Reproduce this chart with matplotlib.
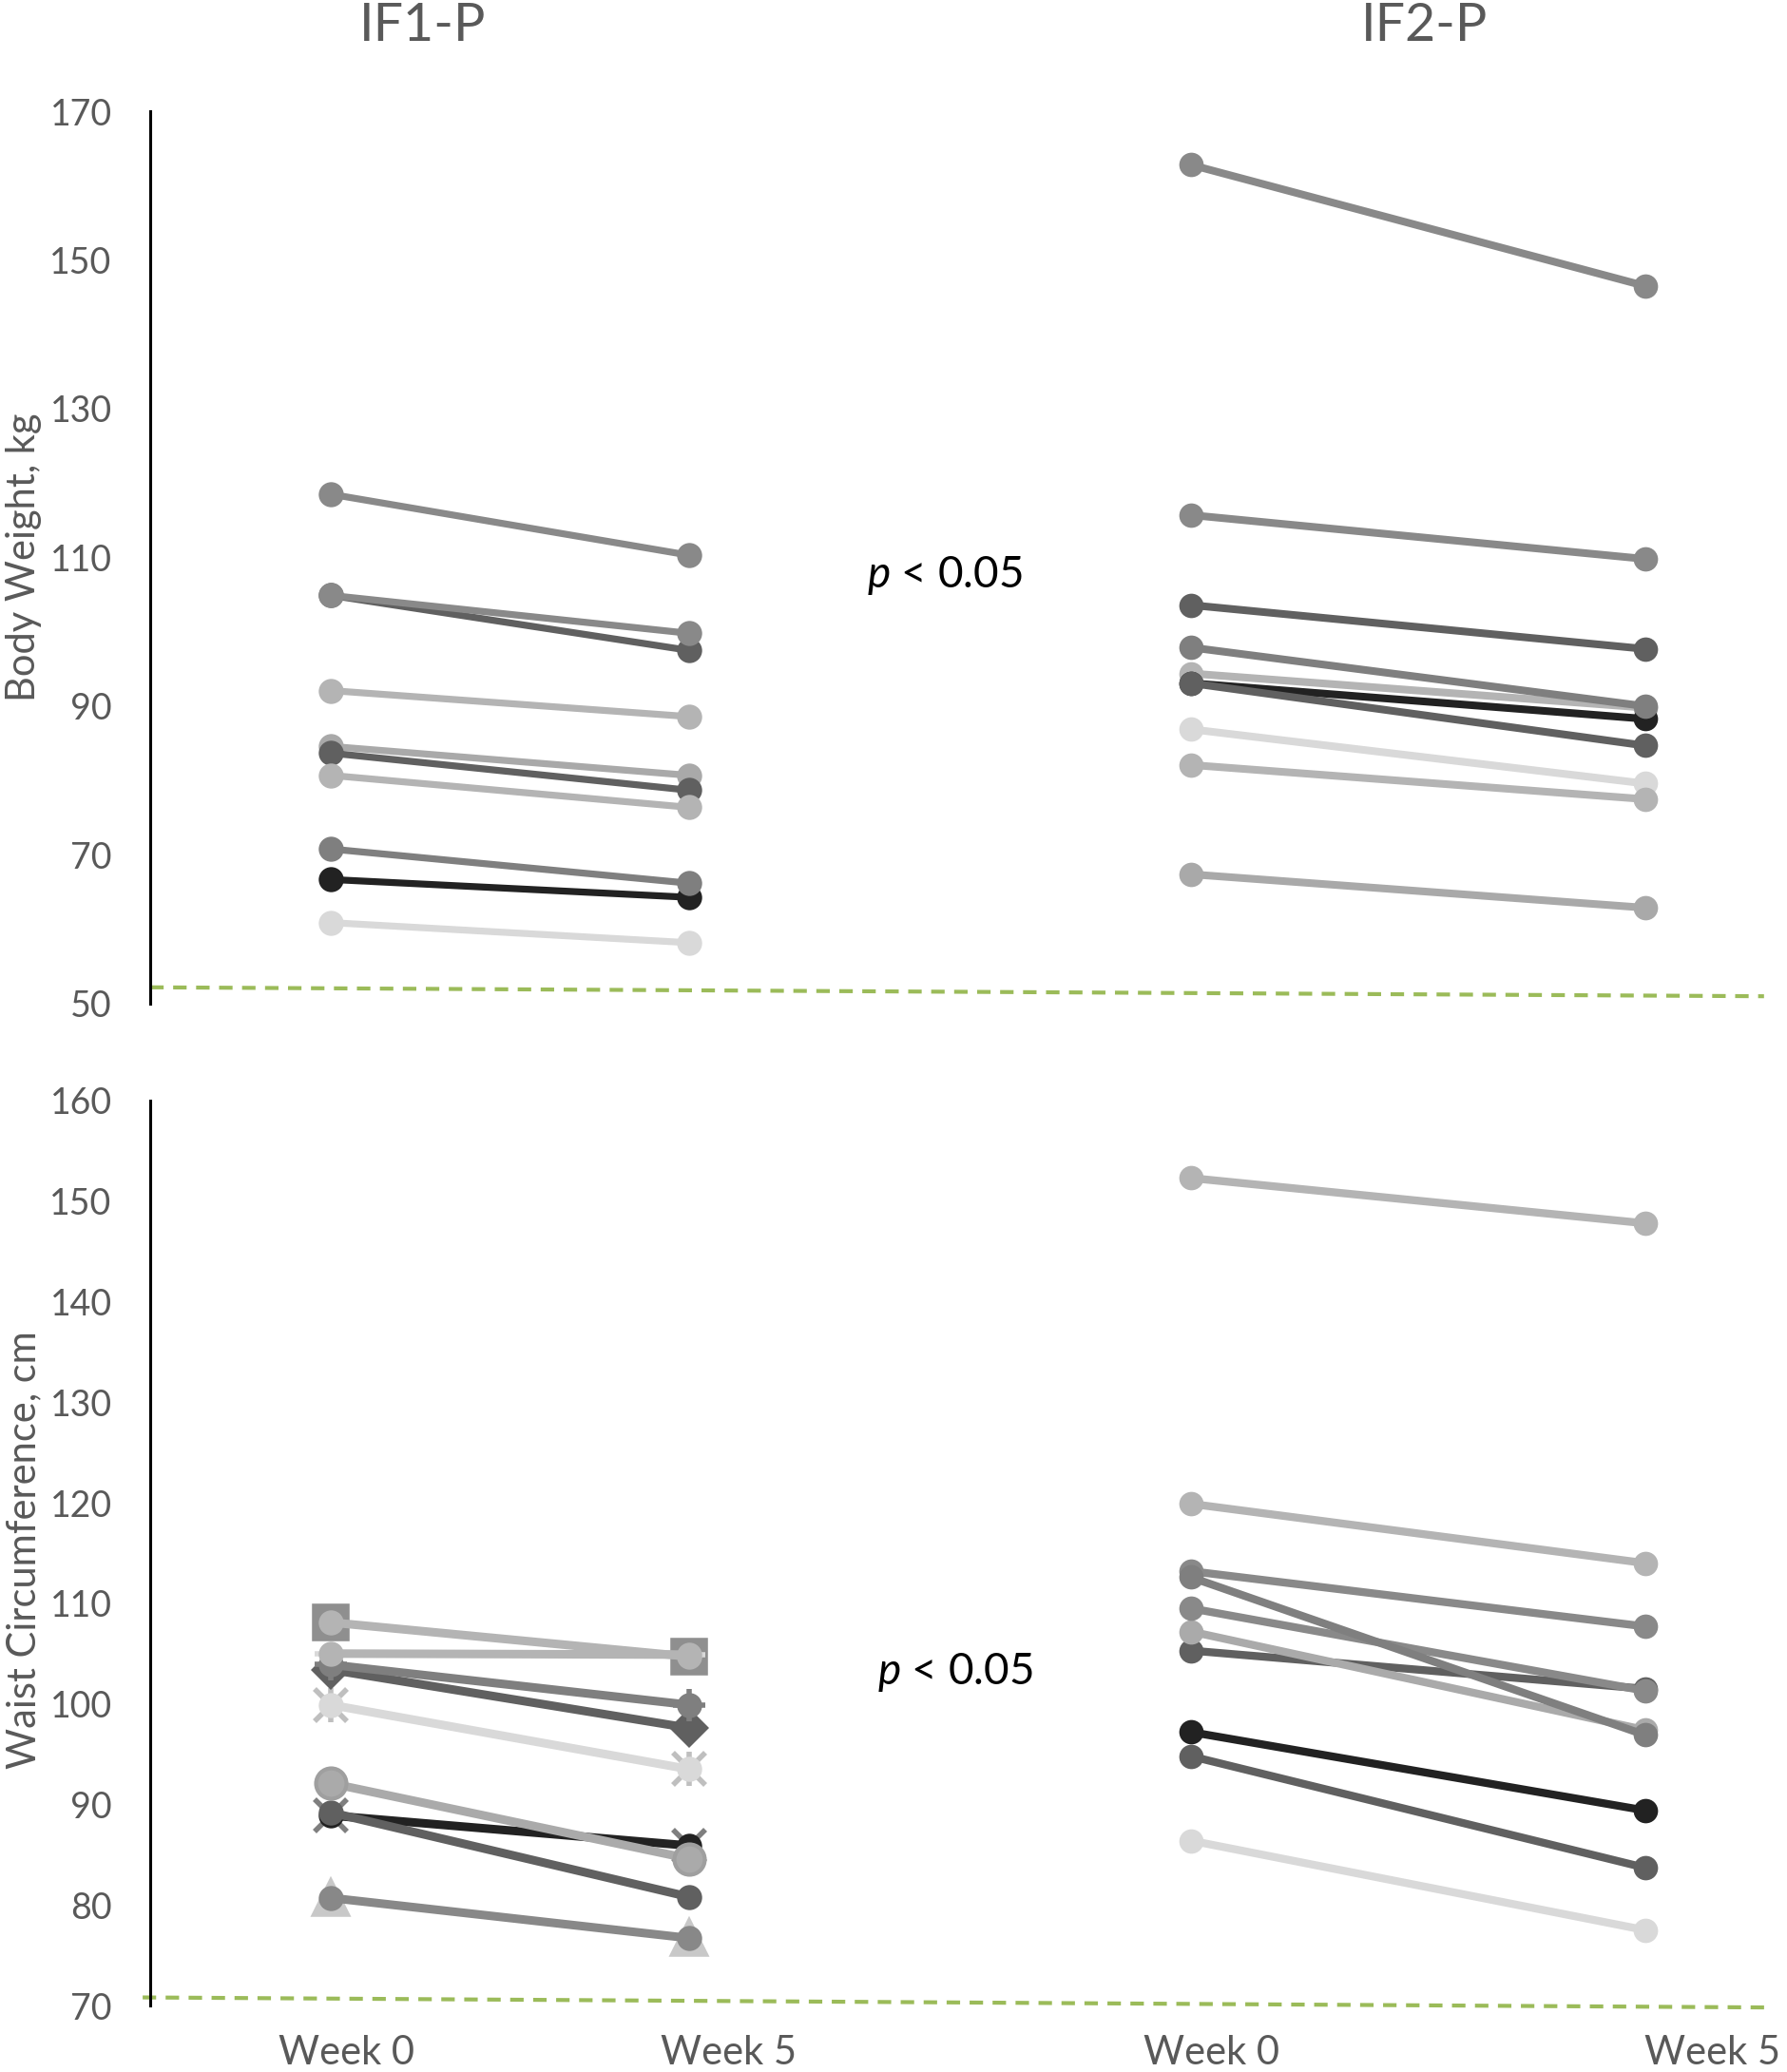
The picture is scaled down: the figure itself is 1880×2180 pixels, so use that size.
import matplotlib
matplotlib.use("Agg")
import matplotlib.pyplot as plt

plt.rcParams['font.family'] = ['Lato', 'DejaVu Sans']
plt.rcParams['mathtext.fontset'] = 'custom'
plt.rcParams['mathtext.it'] = 'Lato:italic'
plt.rcParams['mathtext.rm'] = 'Lato'

groups = ['IF1-P', 'IF2-P']
weeks = ['Week 0', 'Week 5']

# Body weight (kg), one entry per participant, in drawing order
bw_if1_w0 = [66.7, 70.8, 84.6, 83.7, 80.7, 104.9, 104.9, 118.5, 92.1, 60.9]
bw_if1_w5 = [64.3, 66.2, 80.7, 78.7, 76.4, 97.5, 99.8, 110.3, 88.6, 58.2]
bw_if1_col = ['#222222', '#7f7f7f', '#a9a9a9', '#606060', '#b4b4b4',
              '#606060', '#898989', '#898989', '#b4b4b4', '#d9d9d9']

bw_if2_w0 = [162.8, 115.7, 103.6, 94.4, 93.1, 93.1, 97.9, 86.9, 82.1, 67.4]
bw_if2_w5 = [146.5, 109.8, 97.7, 89.8, 88.3, 84.7, 90.0, 79.6, 77.5, 62.9]
bw_if2_col = ['#898989', '#898989', '#606060', '#b4b4b4', '#222222',
              '#606060', '#7f7f7f', '#d9d9d9', '#b4b4b4', '#a9a9a9']

# Waist circumference (cm)
wc_if1_w0 = [88.9, 89.2, 92.1, 80.7, 99.9, 103.4, 103.9, 108.1, 105.0]
wc_if1_w5 = [85.9, 80.8, 84.6, 76.7, 93.5, 97.6, 99.9, 104.7, 104.9]
wc_if1_col = ['#222222', '#606060', '#aaaaaa', '#888888', '#d9d9d9',
              '#606060', '#7f7f7f', '#b4b4b4', '#b4b4b4']
# Excel markers: front marker, and the one hidden behind it (None = none)
wc_if1_mk = ['o', 'o', 'o', 'o', 'o', 'D', 'o', 'o', 'o']
wc_if1_under = ['x', None, None, '^', 'x', None, '+', 's', '_']
wc_if1_under_col = ['#7f7f7f', None, None, '#c8c8c8', '#bfbfbf', None,
                    '#7f7f7f', '#8f8f8f', '#d9d9d9']

wc_if2_w0 = [152.3, 119.9, 113.2, 105.3, 107.2, 109.5, 112.6, 97.2, 94.8, 86.4]
wc_if2_w5 = [147.8, 114.0, 107.7, 101.5, 97.4, 101.3, 96.9, 89.4, 83.7, 77.5]
wc_if2_col = ['#b4b4b4', '#b4b4b4', '#898989', '#606060', '#aaaaaa',
              '#898989', '#7f7f7f', '#222222', '#606060', '#d9d9d9']

# green dashed reference lines (y at left edge, y at right edge)
ref_top = [52.2, 51.0]
ref_bottom = [70.8, 69.8]

x_pos = {'IF1-P': (0.0, 1.0), 'IF2-P': (2.40, 3.668)}
grey = '#595959'

fig = plt.figure(figsize=(18.8, 21.8), dpi=100)
ax1 = fig.add_axes([0.08404, 0.51560, 0.9053, 0.43073])
ax2 = fig.add_axes([0.08404, 0.03211, 0.9053, 0.43670])


def draw(ax, xs, w0, w5, cols, lw, ms, markers=None, under=None, under_col=None):
    for i in range(len(w0)):
        if under is not None and under[i] is not None:
            ax.plot(xs, [w0[i], w5[i]], linestyle='none', marker=under[i],
                    markersize=24, color=under_col[i], markeredgewidth=4,
                    clip_on=False)
            if under[i] == 'x' and under_col[i] == '#bfbfbf':
                ax.plot(xs, [w0[i], w5[i]], linestyle='none', marker='|',
                        markersize=26, color=under_col[i], markeredgewidth=4,
                        clip_on=False)
        mk = 'o' if markers is None else markers[i]
        size = ms if mk == 'o' else ms * 1.15
        ax.plot(xs, [w0[i], w5[i]], color=cols[i], linewidth=lw, marker=mk,
                markersize=size, markeredgewidth=0, solid_capstyle='butt',
                clip_on=False)


draw(ax1, x_pos['IF1-P'], bw_if1_w0, bw_if1_w5, bw_if1_col, 5.2, 19)
draw(ax1, x_pos['IF2-P'], bw_if2_w0, bw_if2_w5, bw_if2_col, 5.8, 18.5)
draw(ax2, x_pos['IF1-P'], wc_if1_w0, wc_if1_w5, wc_if1_col, 6.5, 19,
     wc_if1_mk, wc_if1_under, wc_if1_under_col)
draw(ax2, x_pos['IF2-P'], wc_if2_w0, wc_if2_w5, wc_if2_col, 6.0, 18.5)

# the big-circle participant has a slightly darker rim
ax2.plot(x_pos['IF1-P'], [wc_if1_w0[2], wc_if1_w5[2]], linestyle='none',
         marker='o', markersize=23, markerfacecolor='#aaaaaa',
         markeredgecolor='#9f9f9f', markeredgewidth=3, clip_on=False, zorder=2.5)

ax1.plot([-0.504, 4.0], ref_top, color='#9bbb59', linewidth=3,
         dashes=(3.4, 2.4), clip_on=False)
ax2.plot([-0.525, 4.016], ref_bottom, color='#9bbb59', linewidth=3,
         dashes=(3.4, 2.4), clip_on=False)

for ax, lo, hi, step in [(ax1, 50, 170, 20), (ax2, 70, 160, 10)]:
    ax.set_xlim(-0.504, 4.011)
    ax.set_ylim(lo, hi)
    ax.set_yticks(range(lo, hi + 1, step))
    ax.tick_params(axis='y', length=0, pad=29, labelsize=27, labelcolor=grey)
    ax.tick_params(axis='x', length=0)
    for s in ['top', 'right', 'bottom']:
        ax.spines[s].set_visible(False)
    ax.spines['left'].set_color('black')
    ax.spines['left'].set_linewidth(2.2)

ax1.set_xticks([])
ax2.set_xticks([0.045, 1.109, 2.459, 3.857])
ax2.set_xticklabels(weeks + weeks, fontsize=30, color=grey)
ax2.tick_params(axis='x', pad=22)

ax1.set_ylabel('Body Weight, kg', fontsize=30, color=grey)
ax1.yaxis.set_label_coords(-0.067, 0.5)
ax2.set_ylabel('Waist Circumference, cm', fontsize=30, color=grey)
ax2.yaxis.set_label_coords(-0.067, 0.504)

# group titles above the top panel
ax1.text(0.257, 1.095, groups[0], transform=ax1.get_xaxis_transform(),
         ha='center', va='center', fontsize=40, color=grey)
ax1.text(3.053, 1.095, groups[1], transform=ax1.get_xaxis_transform(),
         ha='center', va='center', fontsize=40, color=grey)

ax1.text(1.714, 107.6, r'$p$ < 0.05', ha='center', va='center', fontsize=33,
         color='black')
ax2.text(1.743, 103.1, r'$p$ < 0.05', ha='center', va='center', fontsize=33,
         color='black')

plt.savefig('out.png', dpi=100)
